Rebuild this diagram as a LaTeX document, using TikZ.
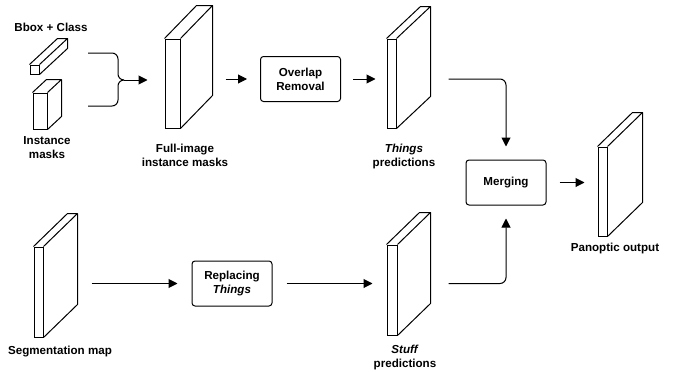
\documentclass[tikz,border=0pt]{standalone}
\usepackage{fontspec}
\setmainfont{Liberation Sans}
\usepackage{tikz}
\usetikzlibrary{arrows.meta, calc}

\begin{document}
\begin{tikzpicture}[
      x=1pt, y=-1pt,
      every node/.style={font=\fontsize{11.6}{14}\selectfont\bfseries},
      face/.style = {shape=rectangle, draw, fill=white, inner sep=0pt,
        line width=1pt
      },
      stage/.style = {shape=rectangle, rounded corners=3pt,
        draw, align=center, line width=1pt,
        minimum width=80pt, minimum height=45pt
      },
      texto/.style={align=center, anchor=center},
      arr/.style={line width=1pt, -{Triangle[length=9pt,width=9pt]}}
    ]
    \useasboundingbox (0,0) rectangle (675,372);

    % front faces of the slabs
    \node[face, minimum width=9pt,  minimum height=9pt]  (bbox)   at (34.5,69.5) {};
    \node[face, minimum width=14pt, minimum height=36pt] (inst)   at (40,111) {};
    \node[face, minimum width=15pt, minimum height=89pt] (full)   at (172.5,83.5) {};
    \node[face, minimum width=9pt,  minimum height=89pt] (things) at (391.5,83.5) {};
    \node[face, minimum width=9pt,  minimum height=89pt] (pano)   at (602.5,191.5) {};
    \node[face, minimum width=9pt,  minimum height=90pt] (seg)    at (38.5,292) {};
    \node[face, minimum width=10pt, minimum height=90pt] (stuff)  at (392,290) {};

    % depth of the slabs
    \foreach \n/\dx/\dy in {bbox/28/-26, inst/14/-13, full/32/-33, things/34/-32,
                            pano/35/-34, seg/34/-33, stuff/33/-32}
      \draw[line width=1pt, line join=round]
        (\n.north west) -- ++(\dx,\dy) -- ($(\n.north east)+(\dx,\dy)$)
        -- ($(\n.south east)+(\dx,\dy)$) -- (\n.south east)
        (\n.north east) -- ++(\dx,\dy);

    % boxes
    \node[stage] (overlap)   at (300.5,79)  {Overlap\\Removal};
    \node[stage] (merging)   at (506,182.5) {Merging};
    \node[stage] (replacing) at (232,283.5) {Replacing\\\textit{Things}};

    % labels
    \node[texto] (lbbox)   at (51,27)    {Bbox + Class};
    \node[texto] (linst)   at (47,147.5) {Instance\\masks};
    \node[texto] (lfull)   at (185,155)  {Full-image\\instance masks};
    \node[texto] (lthings) at (404,156)  {\textit{Things}\\predictions};
    \node[texto] (lpano)   at (615,248)  {Panoptic output};
    \node[texto] (lseg)    at (60,352)   {Segmentation map};
    \node[texto] (lstuff)  at (405,357)  {\textit{Stuff}\\predictions};

    % brace
    \coordinate (arm1) at (88,53);
    \coordinate (arm2) at (88,106);
    \coordinate (tip)  at (124,80);
    \draw[line width=1pt, rounded corners=6pt] (arm1) -- (118,53) -- (118,80) -- (tip);
    \draw[line width=1pt, rounded corners=6pt] (arm2) -- (118,106) -- (118,80) -- (tip);

    % connectors
    \draw[arr] (tip) -- ([xshift=-17pt]full.west |- tip);
    \draw[arr] ([xshift=45pt]full.east |- overlap.west) -- ([xshift=-13pt]overlap.west);
    \draw[arr] ([xshift=12pt]overlap.east) -- ([xshift=-11pt]things.west |- overlap.east);
    \draw[arr, rounded corners=6pt] ([xshift=52pt]things.east |- overlap.east)
      -| ([yshift=13pt]merging.north);
    \draw[arr] ([xshift=13pt]merging.east) -- ([xshift=-13pt]pano.west |- merging.east);
    \draw[arr] ([xshift=48pt]seg.east |- replacing.west) -- ([xshift=-14pt]replacing.west);
    \draw[arr] ([xshift=14pt]replacing.east) -- ([xshift=-14pt]stuff.west |- replacing.east);
    \draw[arr, rounded corners=6pt] ([xshift=51pt]stuff.east |- replacing.east)
      -| ([yshift=-13pt]merging.south);
\end{tikzpicture}
\end{document}
